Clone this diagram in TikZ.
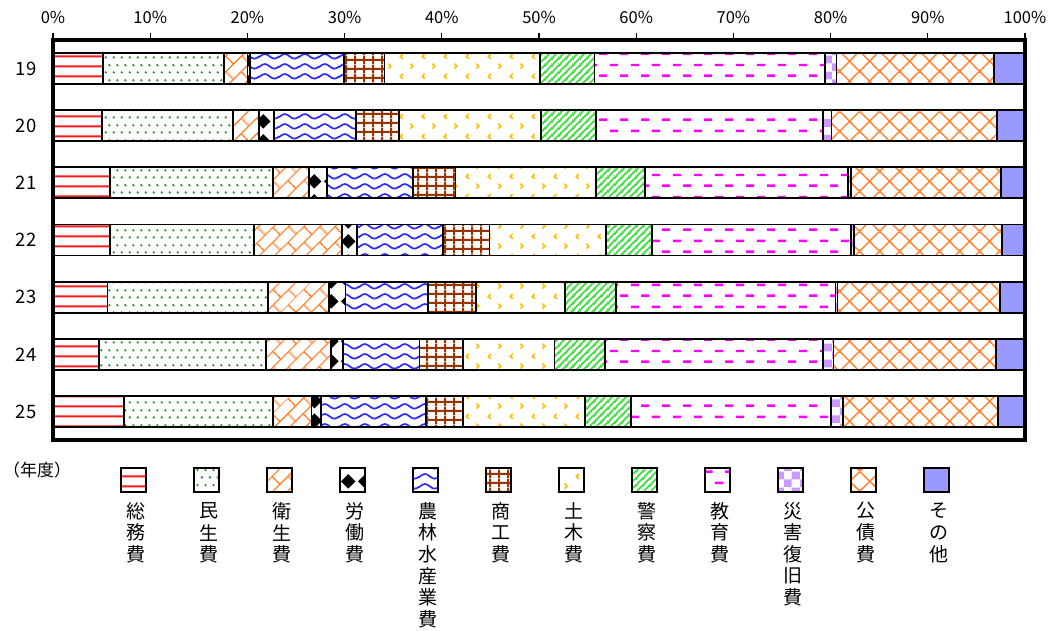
\documentclass[tikz,border=0pt]{standalone}
\usepackage{fontspec}
\setmainfont{Noto Sans CJK JP}
\usetikzlibrary{patterns.meta}

\definecolor{cRed}{HTML}{FF1A1A}
\definecolor{cDot}{HTML}{2A8C2A}
\definecolor{cOrange}{HTML}{FF8533}
\definecolor{cBlue}{HTML}{2B2BFF}
\definecolor{cBrown}{HTML}{993300}
\definecolor{cGold}{HTML}{FFC000}
\definecolor{cLime}{HTML}{33DD33}
\definecolor{cMag}{HTML}{FF00FF}
\definecolor{cLav}{HTML}{CC99FF}
\definecolor{cOther}{HTML}{9999FF}

\tikzdeclarepattern{name=pSomu, type=colored,
  bottom left={(0pt,0pt)}, top right={(10pt,10pt)}, tile size={(10pt,10pt)},
  code={\fill[cRed] (0pt,4pt) rectangle (10pt,6pt);}}
\tikzdeclarepattern{name=pMinsei, type=colored,
  bottom left={(0pt,0pt)}, top right={(8pt,15pt)}, tile size={(8pt,15pt)},
  code={\fill[cDot] (2pt,3.75pt) circle[radius=1.4pt] (6pt,11.25pt) circle[radius=1.4pt];}}
\tikzdeclarepattern{name=pEisei, type=colored,
  bottom left={(0pt,0pt)}, top right={(22pt,22pt)}, tile size={(22pt,22pt)},
  tile transformation={rotate=45},
  code={\fill[cOrange] (0pt,4.75pt) rectangle (22pt,6.25pt) (0pt,15.75pt) rectangle (22pt,17.25pt)
     (4.75pt,5.5pt) rectangle (6.25pt,16.5pt) (15.75pt,16.5pt) rectangle (17.25pt,22pt)
     (15.75pt,0pt) rectangle (17.25pt,5.5pt);}}
\tikzdeclarepattern{name=pRoudou, type=colored,
  bottom left={(0pt,0pt)}, top right={(17pt,20pt)}, tile size={(17pt,20pt)},
  code={\fill[black] (1pt,10pt) -- (8.5pt,17.5pt) -- (16pt,10pt) -- (8.5pt,2.5pt) -- cycle;}}
\tikzdeclarepattern{name=pNourin, type=colored,
  bottom left={(0pt,0pt)}, top right={(20pt,10pt)}, tile size={(20pt,10pt)},
  code={\draw[cBlue, line width=1.8pt] (-5pt,2.5pt) cos (0pt,5pt) sin (5pt,7.5pt) cos (10pt,5pt)
     sin (15pt,2.5pt) cos (20pt,5pt) sin (25pt,7.5pt);}}
\tikzdeclarepattern{name=pShoukou, type=colored,
  bottom left={(0pt,0pt)}, top right={(9pt,9pt)}, tile size={(9pt,9pt)},
  code={\fill[cBrown] (3.4pt,0pt) rectangle (5.6pt,9pt) (0pt,3.4pt) rectangle (9pt,5.6pt);}}
\tikzdeclarepattern{name=pDoboku, type=colored,
  bottom left={(0pt,0pt)}, top right={(22pt,20pt)}, tile size={(22pt,20pt)},
  code={\draw[cGold, line width=1.7pt] (7pt,17.5pt) -- (4.5pt,15pt) -- (7pt,12.5pt)
     (15pt,7.5pt) -- (17.5pt,5pt) -- (15pt,2.5pt);}}
\tikzdeclarepattern{name=pKeisatsu, type=colored,
  bottom left={(0pt,0pt)}, top right={(7pt,7pt)}, tile size={(7pt,7pt)},
  code={\draw[cLime, line width=1.7pt] (-1pt,-1pt) -- (8pt,8pt) (-1pt,6pt) -- (1pt,8pt) (6pt,-1pt) -- (8pt,1pt);}}
\tikzdeclarepattern{name=pKyouiku, type=colored,
  bottom left={(0pt,0pt)}, top right={(21pt,22pt)}, tile size={(21pt,22pt)},
  code={\fill[cMag] (1pt,15.25pt) rectangle (9.5pt,17.75pt) (11.5pt,4.25pt) rectangle (20pt,6.75pt);}}
\tikzdeclarepattern{name=pSaigai, type=colored,
  bottom left={(0pt,0pt)}, top right={(16pt,16pt)}, tile size={(16pt,16pt)},
  code={\fill[cLav] (0pt,0pt) rectangle (8pt,8pt) (8pt,8pt) rectangle (16pt,16pt);}}
\tikzdeclarepattern{name=pKousai, type=colored,
  bottom left={(0pt,0pt)}, top right={(20pt,20pt)}, tile size={(20pt,20pt)},
  code={\draw[cOrange, line width=1.5pt] (-2pt,-2pt) -- (22pt,22pt) (-2pt,22pt) -- (22pt,-2pt);}}

\tikzset{
  seg1/.style={pattern=pSomu},
  seg2/.style={pattern=pMinsei},
  seg3/.style={pattern=pEisei},
  seg4/.style={pattern=pRoudou},
  seg5/.style={pattern=pNourin},
  seg6/.style={pattern=pShoukou},
  seg7/.style={pattern=pDoboku},
  seg8/.style={pattern=pKeisatsu},
  seg9/.style={pattern=pKyouiku},
  seg10/.style={pattern=pSaigai},
  seg11/.style={pattern=pKousai},
  seg12/.style={fill=cOther},
  segline/.style={draw=black, line width=1.8pt},
  frameline/.style={draw=black, line width=3.5pt},
  tickline/.style={draw=black, line width=1.3pt},
  ticklab/.style={font=\fontsize{16.5}{19}\selectfont, inner sep=0pt},
  yearlab/.style={font=\fontsize{18.5}{21}\selectfont, inner sep=0pt},
  legbox/.style={draw=black, line width=1.8pt, minimum width=25pt, minimum height=24pt, inner sep=0pt},
  leglab/.style={font=\fontsize{19}{21.6}\selectfont, inner sep=0pt},
}

\begin{document}
\begin{tikzpicture}[x=1pt,y=-1pt]
\useasboundingbox (0,0) rectangle (1052,631);
\fill[white] (0,0) rectangle (1052,631);

% axis ticks and labels
\foreach \k in {0,...,10} {
  \pgfmathsetmacro\tx{53+97.2*\k}
  \pgfmathtruncatemacro\pc{10*\k}
  \draw[tickline] (\tx,40) -- (\tx,33);
  \node[ticklab] (tl\k) at (\tx,17) {\pc\%};
}

% bars
\foreach \yr/\vals [count=\r from 0] in {
 19/{5.15,17.6,20.0,20.3,29.9,34.1,50.1,55.7,79.4,80.6,96.8,100},
 20/{5.0,18.5,21.2,22.7,31.2,35.6,50.2,55.9,79.2,80.1,97.1,100},
 21/{5.9,22.6,26.3,28.2,37.0,41.4,55.9,60.9,81.8,82.1,97.5,100},
 22/{5.9,20.7,29.7,31.3,40.1,44.9,56.9,61.6,82.1,82.4,97.6,100},
 23/{5.6,22.1,28.4,30.1,38.6,43.5,52.7,57.9,80.5,80.7,97.4,100},
 24/{4.7,21.9,28.6,29.8,37.7,42.2,51.6,56.8,79.2,80.3,97.0,100},
 25/{7.3,22.6,26.6,27.6,38.4,42.2,54.7,59.5,80.0,81.3,97.2,100}} {
  \pgfmathsetmacro\yc{40+57.143*(\r+0.5)}
  \pgfmathsetmacro\yt{\yc-15.5}
  \pgfmathsetmacro\yb{\yc+15.5}
  \node[yearlab] (yr\yr) at (26,\yc) {\yr};
  \foreach \v [count=\c, remember=\v as \pv (initially 0)] in \vals {
    \path[seg\c, segline] ({53+9.72*\pv},\yt) rectangle ({53+9.72*\v},\yb);
  }
}

% plot frame
\draw[frameline] (53,40) rectangle (1025,440);

% legend
\node[font=\fontsize{17}{20}\selectfont, inner sep=0pt] (unit) at (37,470) {（年度）};
\foreach \lab [count=\i] in {{総,務,費},{民,生,費},{衛,生,費},{労,働,費},{農,林,水,産,業,費},{商,工,費},
  {土,木,費},{警,察,費},{教,育,費},{災,害,復,旧,費},{公,債,費},{そ,の,他}} {
  \pgfmathsetmacro\lx{133.5+73*(\i-1)}
  \node[legbox, seg\i] (leg\i) at (\lx,480) {};
  \foreach \ch [count=\j] in \lab {
    \node[leglab] (lab\i-\j) at ({\lx+2},{511+21.6*(\j-1)}) {\ch};
  }
}
\end{tikzpicture}
\end{document}
